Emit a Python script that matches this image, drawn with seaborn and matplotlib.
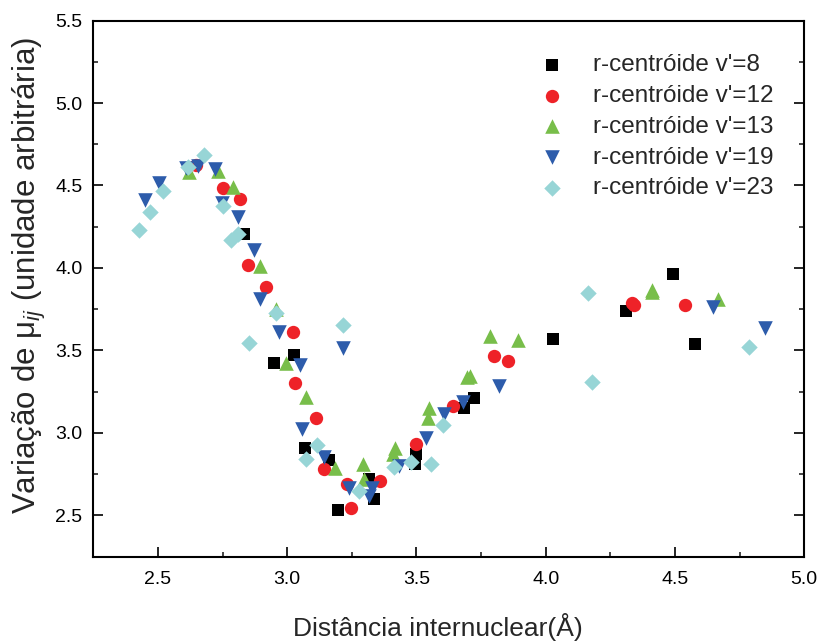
import matplotlib
matplotlib.use("Agg")
import matplotlib.pyplot as plt
import seaborn as sns
from matplotlib.ticker import MultipleLocator, FormatStrFormatter

sns.set_theme(style="white")
plt.rcParams['font.family'] = ['Liberation Sans', 'DejaVu Sans']
plt.rcParams['mathtext.fontset'] = 'custom'
plt.rcParams['mathtext.rm'] = 'Liberation Sans'
plt.rcParams['mathtext.it'] = 'Liberation Sans:italic'

# ---- data ----
x_v8 = [2.834, 2.947, 3.027, 3.070, 3.163, 3.197, 3.317, 3.334, 3.498, 3.494,
        3.682, 3.724, 4.029, 4.310, 4.493, 4.576]
y_v8 = [4.204, 3.422, 3.473, 2.911, 2.834, 2.536, 2.719, 2.597, 2.871, 2.810,
        3.150, 3.209, 3.570, 3.742, 3.961, 3.539]

x_v12 = [2.647, 2.753, 2.818, 2.848, 2.919, 3.021, 3.031, 3.112, 3.142, 3.230,
         3.248, 3.359, 3.500, 3.640, 3.801, 3.855, 4.334, 4.341, 4.539]
y_v12 = [4.623, 4.486, 4.419, 4.017, 3.884, 3.614, 3.300, 3.093, 2.780, 2.688,
         2.546, 2.709, 2.932, 3.164, 3.468, 3.438, 3.789, 3.778, 3.778]

x_v13 = [2.621, 2.734, 2.791, 2.895, 2.958, 2.995, 3.073, 3.185, 3.294, 3.298,
         3.408, 3.417, 3.546, 3.547, 3.694, 3.707, 3.784, 3.891, 4.410, 4.410, 4.665]
y_v13 = [4.583, 4.587, 4.491, 4.014, 3.752, 3.422, 3.215, 2.789, 2.814, 2.719,
         2.874, 2.911, 3.093, 3.150, 3.337, 3.347, 3.588, 3.564, 3.868, 3.855, 3.809]

x_v19 = [2.451, 2.502, 2.608, 2.656, 2.722, 2.748, 2.811, 2.873, 2.894, 2.969,
         3.050, 3.058, 3.141, 3.217, 3.237, 3.328, 3.317, 3.431, 3.537, 3.605,
         3.678, 3.820, 4.646, 4.849]
y_v19 = [4.415, 4.516, 4.609, 4.617, 4.603, 4.394, 4.310, 4.107, 3.813, 3.610,
         3.414, 3.023, 2.854, 3.515, 2.668, 2.668, 2.617, 2.800, 2.968, 3.114,
         3.185, 3.286, 3.766, 3.637]

x_v23 = [2.425, 2.471, 2.518, 2.617, 2.679, 2.750, 2.782, 2.808, 2.852, 2.958,
         3.073, 3.114, 3.214, 3.279, 3.414, 3.479, 3.556, 3.601, 4.165, 4.180, 4.785]
y_v23 = [4.230, 4.340, 4.467, 4.610, 4.686, 4.378, 4.167, 4.204, 3.547, 3.730,
         2.844, 2.927, 3.657, 2.648, 2.794, 2.826, 2.810, 3.049, 3.850, 3.310, 3.519]

labels = ["r-centróide v'=8", "r-centróide v'=12", "r-centróide v'=13",
          "r-centróide v'=19", "r-centróide v'=23"]
xs = [x_v8, x_v12, x_v13, x_v19, x_v23]
ys = [y_v8, y_v12, y_v13, y_v19, y_v23]
colors = ["#000000", "#EE2228", "#78BE4A", "#2D5CAB", "#97D5D6"]
markers = ["s", "o", "^", "v", "D"]
sizes = [72, 92, 110, 110, 70]

fig = plt.figure(figsize=(8.19, 6.41), dpi=100)
ax = fig.add_axes([0.114, 0.1315, 0.868, 0.8365])

for x, y, c, m, s, lab in zip(xs, ys, colors, markers, sizes, labels):
    sns.scatterplot(x=x, y=y, color=c, marker=m, s=s, linewidth=0,
                    label=lab, ax=ax, zorder=3)

ax.set_xlim(2.25, 5.0)
ax.set_ylim(2.25, 5.5)
ax.xaxis.set_major_locator(MultipleLocator(0.5))
ax.xaxis.set_minor_locator(MultipleLocator(0.25))
ax.yaxis.set_major_locator(MultipleLocator(0.5))
ax.yaxis.set_minor_locator(MultipleLocator(0.25))
ax.xaxis.set_major_formatter(FormatStrFormatter('%.1f'))
ax.yaxis.set_major_formatter(FormatStrFormatter('%.1f'))

ax.tick_params(axis='x', which='both', direction='in', bottom=True, top=False)
ax.tick_params(axis='y', which='both', direction='in', left=True, right=True)
ax.tick_params(which='major', length=7, width=1.2, labelsize=14, colors='black')
ax.tick_params(which='minor', length=3.5, width=1.2)
ax.tick_params(axis='x', which='major', pad=10)
ax.tick_params(axis='y', which='major', pad=8)

for sp in ax.spines.values():
    sp.set_linewidth(1.5)
    sp.set_color('black')

ax.set_xlabel("Distância internuclear(Å)", fontsize=19)
ax.set_ylabel("Variação de μ$_{ij}$ (unidade arbitrária)", fontsize=22.5)
ax.xaxis.set_label_coords(0.485, -0.105)
ax.yaxis.set_label_coords(-0.064, 0.525)

leg = ax.legend(loc='upper left', bbox_to_anchor=(0.612, 0.937), frameon=False,
                fontsize=17.5, borderaxespad=0, borderpad=0, labelspacing=0.36,
                handletextpad=0.75, handlelength=1.9)

fig.savefig("out.png", dpi=100)
